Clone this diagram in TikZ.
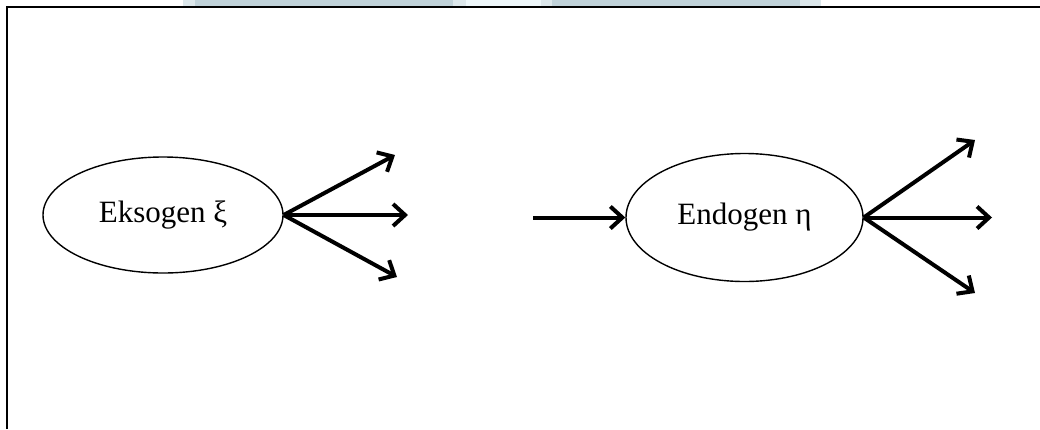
\documentclass[tikz,border=0pt]{standalone}
\usepackage{fontspec}
\setmainfont{Liberation Serif}
\usetikzlibrary{arrows.meta,shapes.geometric}
\definecolor{bandDark}{HTML}{C0D2D9}
\definecolor{bandMid}{HTML}{DCE7EB}
\definecolor{bandPale}{HTML}{EEF7FA}
\begin{document}
\begin{tikzpicture}[x=1pt,y=-1pt,
  latent/.style={draw=black,line width=1.4pt,ellipse,inner sep=0pt,
    font=\fontsize{31}{34}\selectfont},
  path/.style={line width=4pt,-{Straight Barb[length=12pt,width=22pt,line width=4pt]}}]
  \useasboundingbox (0,0) rectangle (1040,429);
  % header band
  \fill[bandMid] (183,0) rectangle (195,6);
  \fill[bandDark] (195,0) rectangle (453,6);
  \fill[bandMid] (453,0) rectangle (466,6);
  \fill[bandPale] (466,0) rectangle (541,6);
  \fill[bandMid] (541,0) rectangle (552,6);
  \fill[bandDark] (552,0) rectangle (800,6);
  \fill[bandMid] (800,0) rectangle (821,6);
  % frame
  \draw[line width=2pt] (7,429) -- (7,7) -- (1040,7);
  % latent variables
  \node[latent,minimum width=240pt,minimum height=116pt] (exo) at (163,215) {Eksogen ξ};
  \node[latent,minimum width=237pt,minimum height=128pt] (endo) at (744.5,217.5) {Endogen η};
  % outgoing paths
  \coordinate (e1) at (395,155);
  \coordinate (e2) at (408,215);
  \coordinate (e3) at (397,277);
  \coordinate (n0) at (533,217.5);
  \coordinate (n1) at (975,140);
  \coordinate (n2) at (992,217.5);
  \coordinate (n3) at (975,293);
  \draw[path] (exo.east) -- (e1);
  \draw[path] (exo.east) -- (e2);
  \draw[path] (exo.east) -- (e3);
  \draw[path] (n0) -- (endo.west);
  \draw[path] (endo.east) -- (n1);
  \draw[path] (endo.east) -- (n2);
  \draw[path] (endo.east) -- (n3);
\end{tikzpicture}
\end{document}
